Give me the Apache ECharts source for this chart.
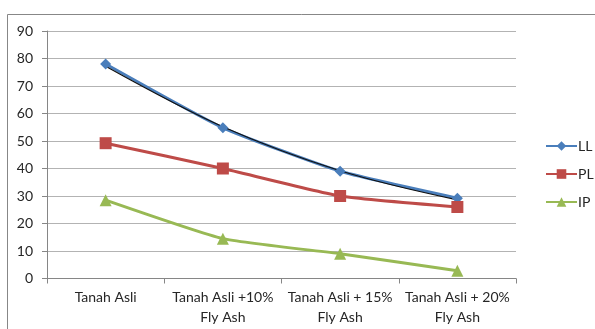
<!DOCTYPE html>
<html>
<head>
<meta charset="utf-8">
<script src="https://cdn.jsdelivr.net/npm/echarts@6/dist/echarts.min.js"></script>
<style>
  html, body { margin: 0; padding: 0; background: #fff; }
  #chart { width: 595px; height: 329px; }
</style>
</head>
<body>
<div id="chart"></div>
<script>
// Atterberg limits of the soil with increasing fly ash content
const categories = [
  'Tanah Asli',
  'Tanah Asli +10%\nFly Ash',
  'Tanah Asli + 15%\nFly Ash',
  'Tanah Asli + 20%\nFly Ash'
];
const llValues = [78, 54.8, 39, 29.2];
const plValues = [49.2, 40, 30, 26];
const ipValues = [28.5, 14.5, 9, 2.8];
// fitted trend through LL
const llTrend = [77.2, 55.2, 39.2, 28.6];
const yTicks = { min: 0, max: 90, interval: 10 };

const FONT = 'Lato, "Open Sans", sans-serif';
const colors = { LL: '#4a7ebb', PL: '#be4b48', IP: '#98b954' };

const chart = echarts.init(document.getElementById('chart'), null, { renderer: 'canvas' });

function lineSeries(name, data, symbol, size, color) {
  return {
    name: name,
    type: 'line',
    data: data,
    smooth: 0.15,
    symbol: symbol,
    symbolSize: size,
    showSymbol: true,
    lineStyle: { color: color, width: 3 },
    itemStyle: { color: color },
    emphasis: { disabled: true },
    animation: false
  };
}

chart.setOption({
  backgroundColor: '#fff',
  animation: false,
  graphic: [{
    type: 'rect',
    shape: { x: 7.5, y: 14.5, width: 620, height: 340 },
    style: { fill: null, stroke: '#878787', lineWidth: 1 },
    silent: true,
    z: -1
  }],
  grid: { left: 47, right: 79, top: 31, bottom: 50.5, containLabel: false },
  legend: {
    orient: 'vertical',
    left: 540,
    top: 134,
    itemWidth: 31,
    itemHeight: 12,
    itemGap: 14,
    data: ['LL', 'PL', 'IP'],
    textStyle: { fontFamily: FONT, fontSize: 14, color: '#262626', padding: [0, 0, 0, -4] }
  },
  xAxis: {
    type: 'category',
    data: categories,
    boundaryGap: true,
    axisLine: { lineStyle: { color: '#868686', width: 1 } },
    axisTick: { show: true, length: 5, lineStyle: { color: '#868686' } },
    axisLabel: {
      fontFamily: FONT, fontSize: 14, color: '#262626',
      lineHeight: 20, margin: 9, interval: 0
    },
    splitLine: { show: false }
  },
  yAxis: {
    type: 'value',
    min: yTicks.min,
    max: yTicks.max,
    interval: yTicks.interval,
    axisLine: { show: true, lineStyle: { color: '#868686', width: 1 } },
    axisTick: { show: true, length: 5, lineStyle: { color: '#868686' } },
    axisLabel: { fontFamily: FONT, fontSize: 14, color: '#262626', margin: 14 },
    splitLine: { show: true, lineStyle: { color: '#b3b3b3', width: 1 } }
  },
  series: [
    lineSeries('LL', llValues, 'diamond', 11, colors.LL),
    lineSeries('PL', plValues, 'rect', 12, colors.PL),
    lineSeries('IP', ipValues, 'triangle', 12, colors.IP),
    {
      name: 'trend',
      type: 'line',
      data: llTrend,
      smooth: 0.35,
      symbol: 'none',
      lineStyle: { color: '#111', width: 1.2 },
      emphasis: { disabled: true },
      z: 3,
      animation: false
    }
  ]
});
</script>
</body>
</html>
